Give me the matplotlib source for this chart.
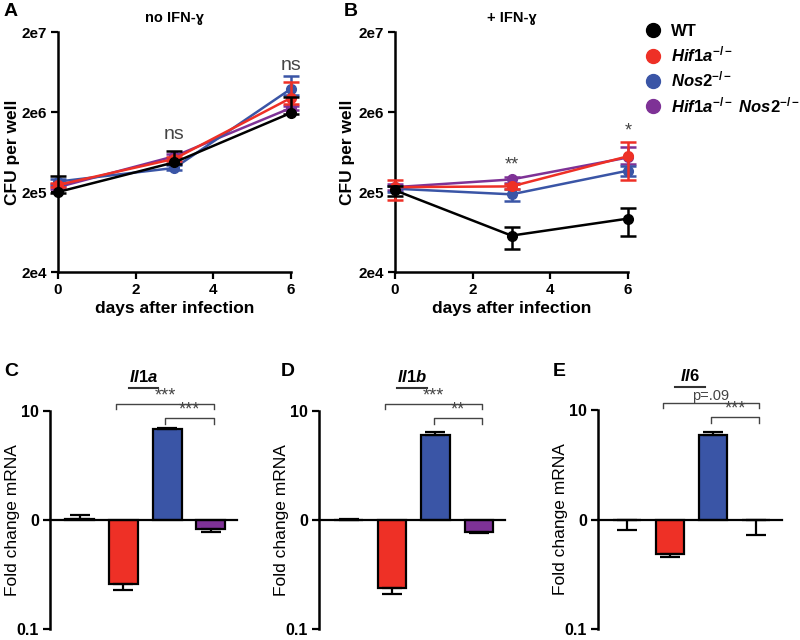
import matplotlib
matplotlib.use("Agg")
import matplotlib.pyplot as plt
from matplotlib.lines import Line2D
from matplotlib.ticker import NullLocator, FixedLocator, FixedFormatter

plt.rcParams['font.family'] = ['Liberation Sans', 'DejaVu Sans']
plt.rcParams['mathtext.fontset'] = 'custom'
plt.rcParams['mathtext.rm'] = 'Liberation Sans:bold'
plt.rcParams['mathtext.it'] = 'Liberation Sans:italic:bold'
plt.rcParams['mathtext.bf'] = 'Liberation Sans:bold'

# ---------------- data ----------------
days = [0, 3, 6]
genotypes = ['WT', 'Hif1a', 'Nos2', 'Hif1a Nos2']
legend_labels = ['WT', r'$\mathit{Hif1a}^{-/-}$', r'$\mathit{Nos2}^{-/-}$',
                 r'$\mathit{Hif1a}^{-/-}\ \mathit{Nos2}^{-/-}$']
colors = ['#000000', '#EE3026', '#3A55A6', '#7E3296']

# Panel A (no IFN-gamma): mean, lower end, upper end of error bar
A_WT = [2.0e5, 4.7e5, 1.95e6]
A_WT_lo = [1.95e5, 4.5e5, 1.9e6]
A_WT_hi = [3.2e5, 6.6e5, 3.1e6]
A_Hif = [2.45e5, 5.2e5, 3.0e6]
A_Hif_lo = [2.3e5, 4.9e5, 2.5e6]
A_Hif_hi = [2.6e5, 5.5e5, 4.8e6]
A_Nos = [2.7e5, 4.0e5, 3.9e6]
A_Nos_lo = [2.5e5, 3.8e5, 3.3e6]
A_Nos_hi = [2.9e5, 4.3e5, 5.6e6]
A_Dbl = [2.3e5, 5.6e5, 2.25e6]
A_Dbl_lo = [2.2e5, 5.3e5, 2.1e6]
A_Dbl_hi = [2.4e5, 5.9e5, 2.4e6]

# Panel B (+ IFN-gamma)
B_WT = [2.1e5, 5.7e4, 9.3e4]
B_WT_lo = [1.8e5, 3.9e4, 5.7e4]
B_WT_hi = [2.4e5, 7.4e4, 1.27e5]
B_Hif = [2.3e5, 2.35e5, 5.6e5]
B_Hif_lo = [1.6e5, 2.2e5, 2.8e5]
B_Hif_hi = [2.8e5, 2.5e5, 8.4e5]
B_Nos = [2.2e5, 1.87e5, 3.7e5]
B_Nos_lo = [2.0e5, 1.55e5, 3.2e5]
B_Nos_hi = [2.4e5, 2.2e5, 4.2e5]
B_Dbl = [2.3e5, 2.87e5, 5.4e5]
B_Dbl_lo = [2.1e5, 2.6e5, 4.5e5]
B_Dbl_hi = [2.5e5, 3.1e5, 7.4e5]

cfu_ticks = [2e4, 2e5, 2e6, 2e7]
cfu_ticklabels = ['2e4', '2e5', '2e6', '2e7']
day_ticks = [0, 2, 4, 6]

A_sig = [(3, 1.05e6, 'ns'), (6, 7.6e6, 'ns')]
B_sig = [(3, 4.3e5, '**'), (6, 1.15e6, '*')]

# Panels C-E: fold change mRNA (bar value, error-bar end)
genes = ['Il1a', 'Il1b', 'Il6']
C_vals = [1.02, 0.26, 6.9, 0.83]
C_err_end = [1.11, 0.23, 7.05, 0.78]
D_vals = [1.01, 0.237, 5.96, 0.78]
D_err_end = [1.02, 0.21, 6.35, 0.765]
E_vals = [0.99, 0.48, 5.96, 0.99]
E_err_end = [0.81, 0.45, 6.3, 0.72]
bracket_labels = [['***', '***'], ['***', '**'], ['p=.09', '***']]
fold_ticks = [0.1, 1, 10]
fold_ticklabels = ['0.1', '0', '10']

# ---------------- figure ----------------
W, H = 800, 640
fig = plt.figure(figsize=(W / 100, H / 100), dpi=100)


def px_axes(left, top, right, bottom):
    return fig.add_axes([left / W, 1 - bottom / H, (right - left) / W, (bottom - top) / H])


def fig_letter(x, y, t):
    fig.text(x / W, 1 - y / H, t, fontsize=14, fontweight='bold', ha='left', va='center')


def style_axes(ax, lsize):
    for s in ['top', 'right']:
        ax.spines[s].set_visible(False)
    for s in ['left', 'bottom']:
        ax.spines[s].set_linewidth(1.8)
    ax.tick_params(width=1.6, length=5, labelsize=lsize, pad=3)
    for lab in ax.get_xticklabels() + ax.get_yticklabels():
        lab.set_fontweight('bold')


def line_panel(ax, series, title, sig, width_px, label_off):
    order = [3, 2, 1, 0]
    for i in order:
        y, lo, hi = series[i]
        yerr = [[v - l for v, l in zip(y, lo)], [h - v for v, h in zip(y, hi)]]
        ax.errorbar(days, y, yerr=yerr, color=colors[i], lw=1.8, marker='o',
                    ms=7, capsize=6, capthick=1.8, elinewidth=1.8, clip_on=False,
                    zorder=3 + (3 - i))
    ax.set_yscale('log')
    ax.set_ylim(2e4, 2e7)
    ax.set_xlim(0, 6)
    ax.yaxis.set_major_locator(FixedLocator(cfu_ticks))
    ax.yaxis.set_major_formatter(FixedFormatter(cfu_ticklabels))
    ax.yaxis.set_minor_locator(NullLocator())
    ax.set_xticks(day_ticks)
    style_axes(ax, 11)
    ax.set_xlabel('days after infection', fontsize=12.5, fontweight='bold', labelpad=3)
    ax.set_ylabel('CFU per well', fontsize=12.5, fontweight='bold')
    ax.yaxis.set_label_coords(-label_off / width_px, 0.5)
    ax.set_title(title, fontsize=10.5, fontweight='bold', pad=7)
    for x, y, t in sig:
        fs = 14 if t == 'ns' else 13
        ax.text(x, y, t, ha='center', va='center', fontsize=fs, color='#444444',
                clip_on=False)


axA = px_axes(58, 32, 291, 272)
line_panel(axA, [(A_WT, A_WT_lo, A_WT_hi), (A_Hif, A_Hif_lo, A_Hif_hi),
                 (A_Nos, A_Nos_lo, A_Nos_hi), (A_Dbl, A_Dbl_lo, A_Dbl_hi)],
           'no IFN-ɣ', A_sig, 233, 38)
fig_letter(4, 12, 'A')

axB = px_axes(395, 32, 628, 272)
line_panel(axB, [(B_WT, B_WT_lo, B_WT_hi), (B_Hif, B_Hif_lo, B_Hif_hi),
                 (B_Nos, B_Nos_lo, B_Nos_hi), (B_Dbl, B_Dbl_lo, B_Dbl_hi)],
           '+ IFN-ɣ', B_sig, 233, 40)
fig_letter(344, 12, 'B')

handles = [Line2D([], [], marker='o', ls='none', color=c, ms=10) for c in colors]
fig.legend(handles, legend_labels, loc='upper left', bbox_to_anchor=(0.806, 0.962),
           frameon=False, handlelength=1.0, handletextpad=0.6,
           labelspacing=0.32, borderpad=0, borderaxespad=0,
           prop={'weight': 'bold', 'size': 12})

# bar panels
bar_x = [1, 2, 3, 4]


def bar_panel(ax, vals, ends, gene, brackets, width_px):
    heights = [v - 1 for v in vals]
    ax.bar(bar_x, heights, bottom=1, width=0.66, color=colors, edgecolor='black',
           linewidth=1.6, zorder=2)
    for x, v, e in zip(bar_x, vals, ends):
        if e >= v:
            yerr = [[0], [e - v]]
        else:
            yerr = [[v - e], [0]]
        ax.errorbar([x], [v], yerr=yerr, color='black', lw=1.6, capsize=7,
                    capthick=1.6, zorder=3)
    ax.set_yscale('log')
    ax.set_ylim(0.1, 10)
    ax.set_xlim(0.32, 4.6)
    ax.yaxis.set_major_locator(FixedLocator(fold_ticks))
    ax.yaxis.set_major_formatter(FixedFormatter(fold_ticklabels))
    ax.yaxis.set_minor_locator(NullLocator())
    ax.spines['bottom'].set_position(('data', 1))
    ax.set_xticks([])
    style_axes(ax, 11.5)
    ax.spines['bottom'].set_linewidth(1.6)
    ax.set_ylabel('Fold change mRNA', fontsize=12.5)
    ax.yaxis.set_label_coords(-30 / width_px, 0.5)
    # title with underline
    ax.text(0.5, 1.155, r'$\mathit{' + gene + '}$', transform=ax.transAxes,
            ha='center', va='center', fontsize=12)
    ax.plot([0.42, 0.58], [1.105, 1.105], transform=ax.transAxes, color='#333333',
            lw=1.5, clip_on=False)
    # significance brackets
    specs = [(1.83, 4.07, 11.7, 10.4, brackets[0]), (2.96, 4.07, 8.6, 7.6, brackets[1])]
    for x1, x2, yb, yt, lab in specs:
        ax.plot([x1, x1, x2, x2], [yt, yb, yb, yt], color='#444444', lw=1.0,
                clip_on=False)
        ax.text((x1 + x2) / 2, yb * 0.99, lab, ha='center', va='bottom',
                fontsize=10.5 if lab.startswith('p') else 13, color='#444444',
                clip_on=False)


axC = px_axes(50, 411, 237, 629)
bar_panel(axC, C_vals, C_err_end, genes[0], bracket_labels[0], 187)
fig_letter(4, 372, 'C')
axD = px_axes(319, 411, 505, 629)
bar_panel(axD, D_vals, D_err_end, genes[1], bracket_labels[1], 186)
fig_letter(281, 372, 'D')
axE = px_axes(598, 410, 782, 629)
bar_panel(axE, E_vals, E_err_end, genes[2], bracket_labels[2], 184)
fig_letter(553, 372, 'E')

fig.savefig('out.png', dpi=100)
